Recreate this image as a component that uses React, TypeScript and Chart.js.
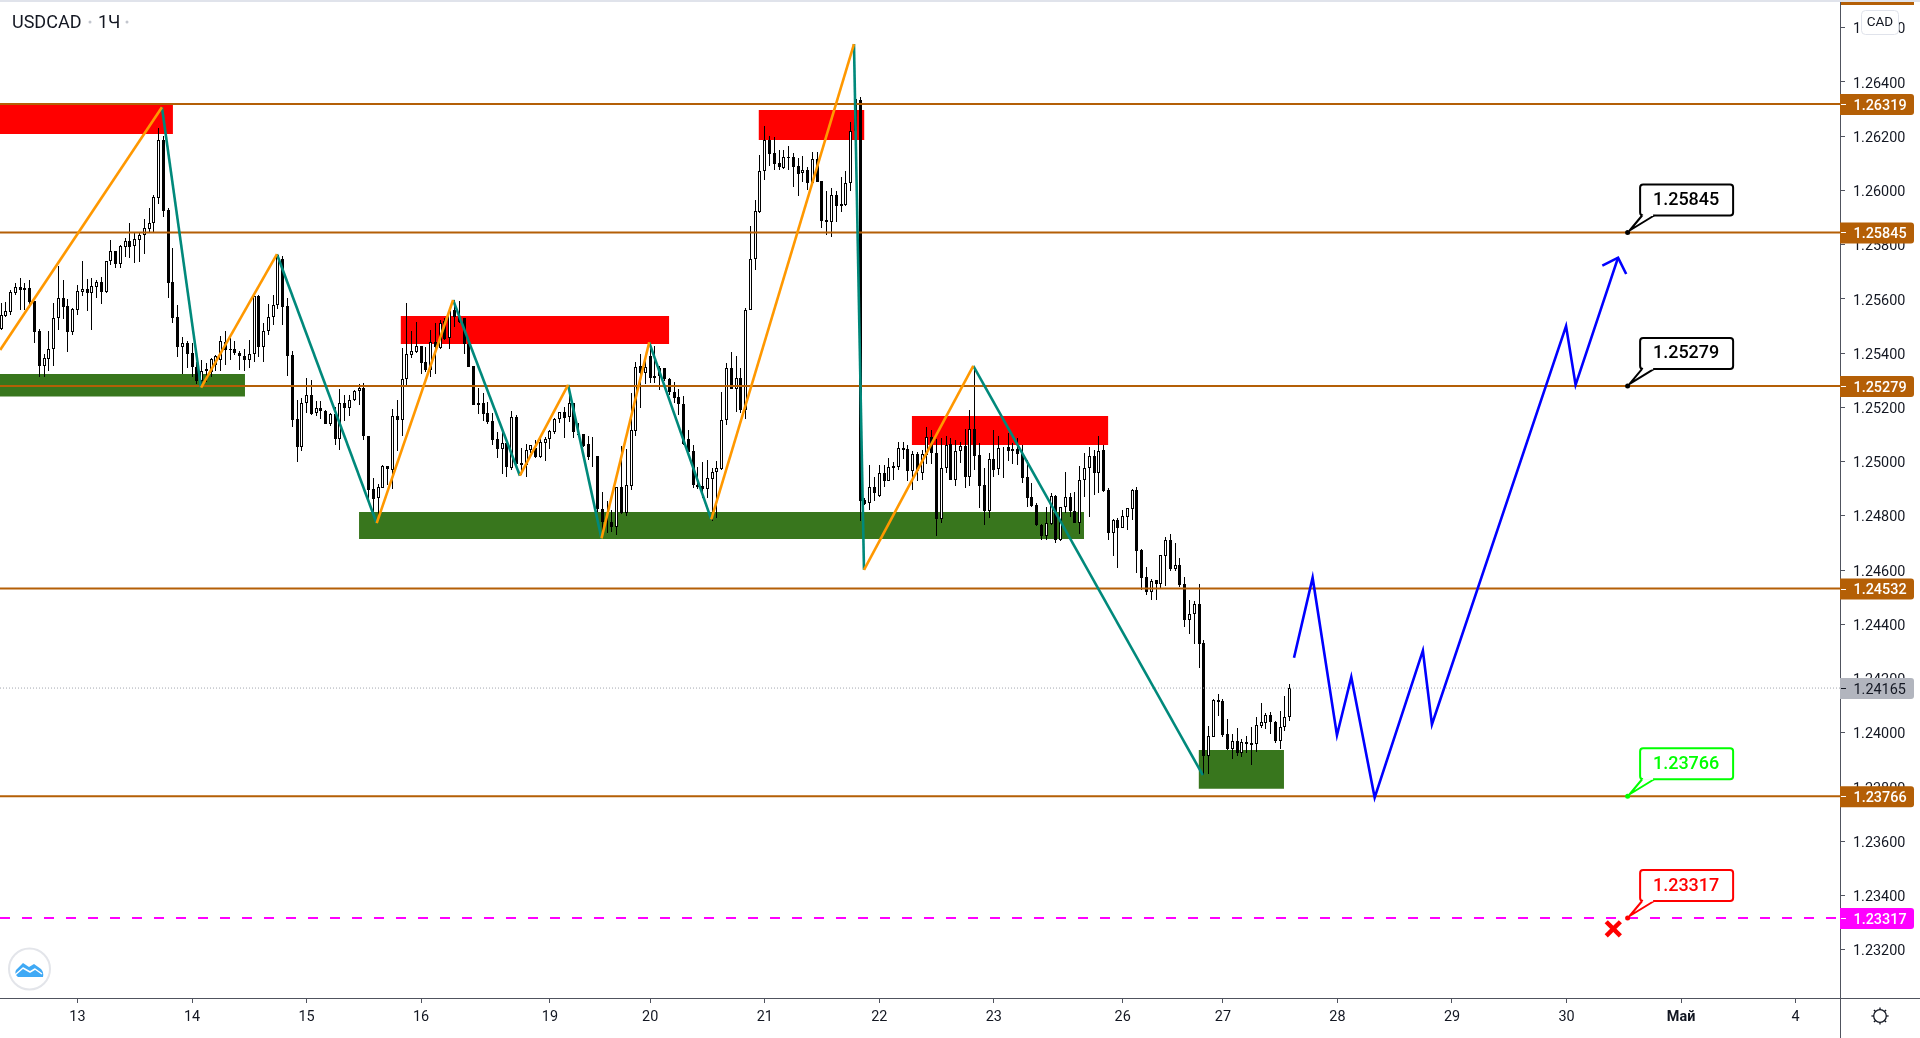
import React, { useEffect, useRef } from "react";
import { Chart, registerables } from "chart.js";

Chart.register(...registerables);

const symbolTitle = "USDCAD";
const intervalTitle = "1Ч";
const currencyBadge = "CAD";

const firstBar = -16;
const opens = [
1.25489,1.25538,1.25553,1.25623,1.25643,1.25640,1.25640,1.25591,1.25482,1.25354,
1.25380,1.25414,1.25528,1.25602,1.25573,1.25479,1.25560,1.25627,1.25637,1.25623,
1.25645,1.25661,1.25626,1.25739,1.25775,1.25730,1.25793,1.25812,1.25794,1.25819,
1.25837,1.25858,1.25879,1.25974,1.26186,1.25928,1.25661,1.25532,1.25424,1.25436,
1.25399,1.25348,1.25299,1.25342,1.25332,1.25357,1.25374,1.25443,1.25416,1.25416,
1.25401,1.25390,1.25374,1.25396,1.25611,1.25422,1.25481,1.25533,1.25576,1.25747,
1.25574,1.25392,1.25156,1.25053,1.25215,1.25245,1.25179,1.25197,1.25186,1.25139,
1.25175,1.25085,1.25218,1.25197,1.25227,1.25259,1.25271,1.25094,1.24898,1.24865,
1.24903,1.24983,1.24970,1.25169,1.25152,1.25304,1.25395,1.25406,1.25426,1.25367,
1.25338,1.25442,1.25418,1.25520,1.25455,1.25559,1.25535,1.25528,1.25433,1.25352,
1.25215,1.25215,1.25178,1.25150,1.25083,1.25048,1.25070,1.24978,1.25163,1.24994,
1.24988,1.25042,1.25049,1.25018,1.25070,1.25082,1.25111,1.25156,1.25183,1.25163,
1.25215,1.25102,1.25102,1.25065,1.25022,1.25021,1.24825,1.24779,1.24776,1.24760,
1.24905,1.24809,1.24911,1.25114,1.25353,1.25328,1.25388,1.25308,1.25345,1.25345,
1.25306,1.25256,1.25238,1.25212,1.25083,1.25038,1.24915,1.24910,1.24900,1.24937,
1.24960,1.24973,1.25152,1.25347,1.25269,1.25310,1.25190,1.25561,1.25746,1.25922,
1.26073,1.26185,1.26137,1.26101,1.26083,1.26123,1.26123,1.26089,1.26064,1.26075,
1.26029,1.26115,1.26034,1.25890,1.25883,1.25982,1.25941,1.25947,1.26027,1.26221,
1.26334,1.24859,1.24847,1.24906,1.24874,1.24957,1.24930,1.24984,1.24981,1.25052,
1.25045,1.24966,1.25027,1.24959,1.25024,1.25089,1.25030,1.24788,1.24975,1.25065,
1.24932,1.25041,1.25057,1.24944,1.25119,1.25024,1.24913,1.24818,1.25009,1.24971,
1.25051,1.25054,1.25046,1.25046,1.25028,1.24942,1.24868,1.24840,1.24768,1.24727,
1.24770,1.24875,1.24711,1.24831,1.24868,1.24819,1.24775,1.24934,1.24975,1.25020,
1.24959,1.25043,1.24895,1.24738,1.24785,1.24756,1.24797,1.24826,1.24895,1.24674,
1.24573,1.24520,1.24562,1.24550,1.24653,1.24711,1.24604,1.24617,1.24547,1.24417,
1.24437,1.24474,1.24330,1.23915,1.23986,1.24120,1.24116,1.23994,1.23941,1.23968,
1.23926,1.23965,1.23961,1.23957,1.24026,1.24037,1.24064,1.24041,1.23971,1.24020,1.24057,
];
const highs = [
1.25584,1.25587,1.25633,1.25660,1.25676,1.25660,1.25670,1.25592,1.25488,1.25397,
1.25482,1.25585,1.25721,1.25670,1.25598,1.25568,1.25651,1.25740,1.25673,1.25676,
1.25670,1.25682,1.25741,1.25816,1.25778,1.25799,1.25823,1.25879,1.25848,1.25844,
1.25894,1.25934,1.25982,1.26230,1.26200,1.25934,1.25787,1.25578,1.25458,1.25445,
1.25436,1.25369,1.25375,1.25365,1.25381,1.25392,1.25464,1.25482,1.25455,1.25445,
1.25408,1.25416,1.25449,1.25609,1.25613,1.25511,1.25581,1.25614,1.25766,1.25759,
1.25603,1.25407,1.25228,1.25234,1.25309,1.25302,1.25222,1.25225,1.25191,1.25179,
1.25201,1.25267,1.25246,1.25246,1.25265,1.25286,1.25289,1.25095,1.24939,1.24917,
1.24987,1.24984,1.25195,1.25228,1.25418,1.25584,1.25481,1.25514,1.25427,1.25422,
1.25485,1.25510,1.25522,1.25528,1.25559,1.25596,1.25592,1.25528,1.25442,1.25353,
1.25273,1.25252,1.25219,1.25181,1.25111,1.25117,1.25080,1.25186,1.25171,1.25049,
1.25065,1.25061,1.25080,1.25086,1.25092,1.25117,1.25160,1.25184,1.25203,1.25249,
1.25215,1.25141,1.25102,1.25096,1.25092,1.25021,1.24889,1.24855,1.24822,1.24908,
1.25058,1.25045,1.25252,1.25366,1.25396,1.25375,1.25424,1.25427,1.25353,1.25345,
1.25308,1.25295,1.25267,1.25242,1.25117,1.25062,1.24979,1.25000,1.25006,1.24975,
1.25002,1.25258,1.25362,1.25404,1.25389,1.25345,1.25567,1.25869,1.25965,1.26131,
1.26238,1.26199,1.26196,1.26150,1.26150,1.26164,1.26137,1.26119,1.26127,1.26088,
1.26142,1.26140,1.26035,1.25998,1.26008,1.25998,1.26049,1.26070,1.26254,1.26340,
1.26345,1.24865,1.24988,1.24945,1.24988,1.24987,1.25012,1.25000,1.25073,1.25073,
1.25061,1.25040,1.25036,1.25043,1.25126,1.25116,1.25082,1.25086,1.25094,1.25088,
1.25079,1.25073,1.25122,1.25190,1.25352,1.25067,1.24975,1.25030,1.25116,1.25094,
1.25055,1.25104,1.25070,1.25086,1.25061,1.25006,1.24923,1.24846,1.24770,1.24834,
1.24885,1.24877,1.24834,1.24963,1.24883,1.24889,1.24984,1.25033,1.25055,1.25043,
1.25094,1.25061,1.24901,1.24787,1.24791,1.24821,1.24830,1.24898,1.24905,1.24676,
1.24610,1.24569,1.24563,1.24654,1.24721,1.24732,1.24699,1.24643,1.24573,1.24490,
1.24486,1.24547,1.24342,1.24025,1.24123,1.24142,1.24123,1.24051,1.23994,1.24017,
1.23976,1.23988,1.24021,1.24057,1.24110,1.24073,1.24075,1.24042,1.24079,1.24134,1.24179,
];
const lows = [
1.25485,1.25535,1.25541,1.25614,1.25559,1.25559,1.25565,1.25439,1.25313,1.25313,
1.25335,1.25353,1.25485,1.25526,1.25405,1.25467,1.25541,1.25612,1.25555,1.25485,
1.25603,1.25581,1.25621,1.25725,1.25715,1.25714,1.25756,1.25750,1.25734,1.25737,
1.25766,1.25844,1.25842,1.25950,1.25903,1.25602,1.25510,1.25387,1.25322,1.25344,
1.25313,1.25286,1.25270,1.25295,1.25313,1.25336,1.25336,1.25357,1.25373,1.25394,
1.25338,1.25336,1.25345,1.25369,1.25385,1.25369,1.25467,1.25504,1.25563,1.25504,
1.25314,1.25126,1.24997,1.25040,1.25181,1.25172,1.25170,1.25156,1.25139,1.25132,
1.25062,1.25043,1.25148,1.25169,1.25222,1.25209,1.25081,1.24847,1.24816,1.24785,
1.24901,1.24914,1.24900,1.25040,1.25095,1.25279,1.25384,1.25400,1.25324,1.25332,
1.25313,1.25322,1.25414,1.25449,1.25414,1.25498,1.25510,1.25397,1.25348,1.25209,
1.25176,1.25151,1.25139,1.25061,1.25015,1.24954,1.24945,1.24969,1.24988,1.24951,
1.24945,1.25031,1.25012,1.25012,1.25002,1.25045,1.25101,1.25141,1.25088,1.25147,
1.25086,1.25092,1.25055,1.25006,1.24981,1.24815,1.24729,1.24736,1.24742,1.24729,
1.24807,1.24799,1.24895,1.25095,1.25197,1.25286,1.25289,1.25289,1.25265,1.25299,
1.25246,1.25218,1.25172,1.25062,1.25033,1.24902,1.24898,1.24865,1.24865,1.24782,
1.24791,1.24969,1.25135,1.25266,1.25184,1.25180,1.25159,1.25559,1.25706,1.25916,
1.26039,1.26091,1.26076,1.26076,1.26080,1.26076,1.26014,1.25978,1.26030,1.26002,
1.26027,1.26032,1.25861,1.25834,1.25830,1.25885,1.25922,1.25944,1.25998,1.26150,
1.24782,1.24840,1.24820,1.24856,1.24871,1.24905,1.24930,1.24932,1.24969,1.25008,
1.24928,1.24895,1.24930,1.24932,1.24993,1.24991,1.24725,1.24775,1.24959,1.24932,
1.24910,1.24996,1.24904,1.24910,1.24969,1.24830,1.24766,1.24793,1.24944,1.24950,
1.24938,1.25002,1.24993,1.24987,1.24920,1.24834,1.24834,1.24762,1.24711,1.24711,
1.24766,1.24701,1.24708,1.24809,1.24794,1.24772,1.24732,1.24870,1.24797,1.24877,
1.24883,1.24889,1.24711,1.24652,1.24609,1.24754,1.24748,1.24785,1.24590,1.24526,
1.24508,1.24490,1.24490,1.24530,1.24541,1.24597,1.24598,1.24536,1.24389,1.24364,
1.24327,1.24240,1.23844,1.23848,1.23986,1.24062,1.23986,1.23936,1.23904,1.23914,
1.23912,1.23926,1.23881,1.23930,1.24019,1.24014,1.23995,1.23962,1.23940,1.24006,1.24045,
];
const closes = [
1.25540,1.25554,1.25624,1.25643,1.25633,1.25634,1.25589,1.25479,1.25354,1.25381,
1.25414,1.25528,1.25602,1.25571,1.25479,1.25563,1.25628,1.25635,1.25623,1.25646,
1.25661,1.25627,1.25739,1.25775,1.25730,1.25794,1.25812,1.25793,1.25820,1.25837,
1.25860,1.25879,1.25975,1.26185,1.25925,1.25660,1.25531,1.25424,1.25436,1.25397,
1.25348,1.25299,1.25335,1.25335,1.25380,1.25388,1.25444,1.25410,1.25410,1.25399,
1.25388,1.25373,1.25396,1.25609,1.25421,1.25481,1.25533,1.25577,1.25763,1.25572,
1.25391,1.25155,1.25053,1.25215,1.25245,1.25176,1.25197,1.25185,1.25140,1.25175,
1.25085,1.25218,1.25196,1.25227,1.25260,1.25271,1.25093,1.24896,1.24863,1.24906,
1.24984,1.24971,1.25169,1.25152,1.25304,1.25396,1.25407,1.25426,1.25365,1.25338,
1.25442,1.25422,1.25510,1.25452,1.25557,1.25535,1.25514,1.25433,1.25350,1.25210,
1.25210,1.25177,1.25146,1.25081,1.25048,1.25067,1.24979,1.25163,1.24990,1.24988,
1.25042,1.25060,1.25018,1.25071,1.25083,1.25113,1.25157,1.25182,1.25162,1.25215,
1.25111,1.25099,1.25058,1.25018,1.25020,1.24824,1.24776,1.24776,1.24760,1.24905,
1.24809,1.24913,1.25117,1.25350,1.25328,1.25350,1.25308,1.25316,1.25316,1.25306,
1.25255,1.25236,1.25212,1.25065,1.25037,1.24914,1.24908,1.24900,1.24938,1.24960,
1.24975,1.25152,1.25347,1.25269,1.25310,1.25190,1.25561,1.25746,1.25923,1.26073,
1.26185,1.26136,1.26099,1.26085,1.26123,1.26120,1.26088,1.26061,1.26075,1.26029,
1.26115,1.26032,1.25889,1.25882,1.25982,1.25941,1.25949,1.26027,1.26221,1.26336,
1.24856,1.24844,1.24906,1.24883,1.24957,1.24930,1.24979,1.24977,1.25052,1.25043,
1.24966,1.25027,1.24966,1.25027,1.25089,1.25030,1.24788,1.24975,1.25063,1.24932,
1.25041,1.25056,1.24944,1.25119,1.25022,1.24911,1.24818,1.25008,1.24969,1.25052,
1.25052,1.25040,1.25040,1.25028,1.24941,1.24867,1.24836,1.24766,1.24727,1.24772,
1.24874,1.24711,1.24831,1.24868,1.24819,1.24775,1.24934,1.24975,1.25020,1.24959,
1.25041,1.24893,1.24738,1.24785,1.24756,1.24798,1.24828,1.24895,1.24671,1.24572,
1.24520,1.24561,1.24549,1.24654,1.24710,1.24604,1.24617,1.24545,1.24417,1.24437,
1.24474,1.24328,1.23915,1.23987,1.24121,1.24115,1.23992,1.23940,1.23968,1.23926,
1.23965,1.23960,1.23956,1.24027,1.24038,1.24064,1.24041,1.23971,1.24020,1.24057,1.24165,
];

const xMin = -16.23;
const xMax = 369.3;
const yMin = 1.23022;
const yMax = 1.26695;

const timeTickIndex = [0, 24, 48, 72, 99, 120, 144, 168, 192, 219, 240, 264, 288, 312, 336, 360];
const timeTickLabels = ["13", "14", "15", "16", "19", "20", "21", "22", "23", "26", "27", "28", "29", "30", "Май", "4"];
const priceTicks = [1.232, 1.234, 1.236, 1.238, 1.24, 1.242, 1.244, 1.246, 1.248, 1.25, 1.252, 1.254, 1.256, 1.258, 1.26, 1.262, 1.264, 1.266];

const keyLevels = [1.26319, 1.25845, 1.25279, 1.24532, 1.23766];
const lastPrice = 1.24165;
const stopLevel = 1.23317;

// [bar from, bar to, price low, price high]
const redZones = [
  [-17, 20, 1.26208, 1.26315],
  [67.7, 124, 1.25434, 1.25537],
  [142.7, 164.9, 1.26186, 1.26297],
  [174.8, 216, 1.25061, 1.25168],
];
const greenZones = [
  [-17, 35.1, 1.2524, 1.25323],
  [59, 210.9, 1.24715, 1.24814],
  [234.9, 252.8, 1.23794, 1.23937],
];

const zigzagIndex = [-16.2, 17.7, 25.9, 41.8, 62.7, 78.7, 92.7, 102.8, 109.8, 119.8, 132.8, 162.7, 164.8, 187.7, 235.8];
const zigzagPrice = [1.25412, 1.26307, 1.25273, 1.25765, 1.24773, 1.25596, 1.24948, 1.25283, 1.24717, 1.2544, 1.24787, 1.2654, 1.24601, 1.25353, 1.23844];

const forecastIndex = [254.9, 258.8, 263.9, 266.9, 271.8, 281.9, 283.8, 311.9, 313.9, 322.8];
const forecastPrice = [1.24277, 1.24572, 1.23991, 1.24206, 1.23761, 1.24303, 1.24031, 1.255, 1.25283, 1.25752];
const arrowHeadIndex = [319.5, 322.8, 324.5];
const arrowHeadPrice = [1.25723, 1.25752, 1.25692];

const calloutBar = 324.8;
const calloutPrices = [1.25845, 1.25279, 1.23766, 1.23317];
const calloutColors = ["#000000", "#000000", "#00ff00", "#ff0000"];

const stopMarkIndex = 321.8;
const stopMarkPrice = 1.23277;

const BROWN = "#b45f06";
const TEXT = "#131722";
const AXIS = "#50535e";
const FONT = "Roboto, 'Liberation Sans', sans-serif";

const seg = (xs: number[], ys: number[]) => xs.map((x, i) => ({ x, y: ys[i] }));

function priceLabel(ctx: CanvasRenderingContext2D, y: number, text: string, bg: string, fg: string, weight: string) {
  ctx.fillStyle = bg;
  ctx.beginPath();
  ctx.roundRect(1840, y - 10, 74, 21, [0, 3, 3, 0]);
  ctx.fill();
  ctx.fillStyle = fg;
  ctx.fillRect(1841, Math.round(y), 5, 1);
  ctx.font = `${weight} 14.4px ${FONT}`;
  ctx.textAlign = "left";
  ctx.textBaseline = "middle";
  ctx.fillText(text, 1853.5, y + 2);
}

const chromePlugin = {
  id: "chrome",
  afterDatasetsUpdate(chart: any) {
    // snap the candle elements to whole device pixels so that they stay crisp
    chart.data.datasets.forEach((ds: any, i: number) => {
      if (ds.label !== "wicks" && ds.label !== "bodies") return;
      chart.getDatasetMeta(i).data.forEach((el: any) => {
        el.x = Math.floor(el.x) + 0.5;
        el.y = Math.round(el.y);
        el.base = Math.round(el.base);
      });
    });
  },
  afterDraw(chart: any) {
    const ctx: CanvasRenderingContext2D = chart.ctx;
    const xs = chart.scales.x;
    const ys = chart.scales.y;
    ctx.save();

    // axis panel edges
    ctx.fillStyle = AXIS;
    ctx.fillRect(1840, 0, 1, 1036);
    ctx.fillRect(0, 996, 1920, 1);
    ctx.fillStyle = BROWN;
    ctx.fillRect(1841, 0, 73, 3);

    // symbol legend
    ctx.fillStyle = TEXT;
    ctx.font = `18px ${FONT}`;
    ctx.textAlign = "left";
    ctx.textBaseline = "middle";
    ctx.fillText(symbolTitle, 12, 21);
    ctx.fillText(intervalTitle, 98, 21);
    ctx.fillStyle = "#c3c6ce";
    ctx.beginPath();
    ctx.arc(90, 20, 1.5, 0, Math.PI * 2);
    ctx.arc(127, 20, 1.5, 0, Math.PI * 2);
    ctx.fill();

    // price labels on the axis
    keyLevels.forEach((p) => priceLabel(ctx, ys.getPixelForValue(p), p.toFixed(5), BROWN, "#ffffff", "500"));
    priceLabel(ctx, ys.getPixelForValue(lastPrice), lastPrice.toFixed(5), "#b2b5be", TEXT, "400");
    priceLabel(ctx, ys.getPixelForValue(stopLevel), stopLevel.toFixed(5), "#ff00ff", "#ffffff", "500");

    // currency badge
    ctx.fillStyle = "#ffffff";
    ctx.strokeStyle = "#e0e3eb";
    ctx.lineWidth = 1;
    ctx.beginPath();
    ctx.roundRect(1861.5, 8.5, 37, 24, 4);
    ctx.fill();
    ctx.stroke();
    ctx.fillStyle = TEXT;
    ctx.font = `13.5px ${FONT}`;
    ctx.textAlign = "center";
    ctx.fillText(currencyBadge, 1880, 21);

    // callouts
    calloutPrices.forEach((p, i) => {
      const ax = xs.getPixelForValue(calloutBar);
      const ay = ys.getPixelForValue(p);
      const color = calloutColors[i];
      ctx.strokeStyle = color;
      ctx.lineWidth = 2;
      ctx.lineJoin = "round";
      ctx.fillStyle = "#ffffff";
      ctx.beginPath();
      ctx.roundRect(ax + 12.5, ay - 48, 93, 31, 3);
      ctx.fill();
      ctx.stroke();
      ctx.beginPath();
      ctx.moveTo(ax + 14.5, ay - 17);
      ctx.lineTo(ax + 2, ay - 2);
      ctx.lineTo(ax + 26.5, ay - 17);
      ctx.fill();
      ctx.stroke();
      ctx.fillStyle = "#ffffff";
      ctx.fillRect(ax + 15.5, ay - 19, 10, 2.5);
      ctx.fillStyle = color;
      ctx.beginPath();
      ctx.arc(ax, ay, 2.5, 0, Math.PI * 2);
      ctx.fill();
      ctx.font = `500 18px ${FONT}`;
      ctx.textAlign = "center";
      ctx.textBaseline = "middle";
      ctx.fillText(p.toFixed(5), ax + 58.5, ay - 32);
    });

    // platform logo
    ctx.fillStyle = "#ffffff";
    ctx.strokeStyle = "#e3e5ea";
    ctx.lineWidth = 2;
    ctx.beginPath();
    ctx.arc(29.5, 967, 20.5, 0, Math.PI * 2);
    ctx.fill();
    ctx.stroke();
    ctx.fillStyle = "#3fa9f5";
    ctx.beginPath();
    ctx.moveTo(16, 968);
    ctx.lineTo(23, 961);
    ctx.lineTo(29, 965);
    ctx.lineTo(34, 962);
    ctx.lineTo(41, 967);
    ctx.quadraticCurveTo(44, 970, 43, 975);
    ctx.lineTo(18, 975);
    ctx.quadraticCurveTo(14, 972, 16, 968);
    ctx.fill();
    ctx.strokeStyle = "#ffffff";
    ctx.lineWidth = 1.5;
    ctx.beginPath();
    ctx.moveTo(15, 973);
    ctx.lineTo(23, 966);
    ctx.lineTo(30, 970);
    ctx.lineTo(35, 967);
    ctx.lineTo(42, 972);
    ctx.stroke();

    // settings gear
    ctx.strokeStyle = TEXT;
    ctx.lineWidth = 1.3;
    ctx.beginPath();
    ctx.arc(1880, 1014, 6.3, 0, Math.PI * 2);
    ctx.stroke();
    for (let k = 0; k < 8; k++) {
      const a = (k * Math.PI) / 4;
      ctx.beginPath();
      ctx.moveTo(1880 + Math.cos(a) * 6.3, 1014 + Math.sin(a) * 6.3);
      ctx.lineTo(1880 + Math.cos(a) * 8.6, 1014 + Math.sin(a) * 8.6);
      ctx.stroke();
    }
    ctx.restore();
  },
};

const noPadding = (s: any) => {
  s.paddingLeft = 0;
  s.paddingRight = 0;
  s.paddingTop = 0;
  s.paddingBottom = 0;
};

export default function App() {
  const ref = useRef<HTMLCanvasElement>(null);

  useEffect(() => {
    document.body.style.margin = "0";
    document.body.style.background = "#ffffff";
    const bars = opens.map((_, i) => firstBar + i);

    const zoneDataset = (z: number[], color: string) => ({
      type: "line",
      label: "zone",
      data: [{ x: z[0], y: z[3] }, { x: z[1], y: z[3] }],
      fill: { value: z[2] },
      backgroundColor: color,
      borderWidth: 0,
      pointRadius: 0,
      order: 20,
    });

    const zigzagDatasets = zigzagIndex.slice(0, -1).map((x, i) => ({
      type: "line",
      label: i % 2 === 0 ? "up leg" : "down leg",
      data: [{ x, y: zigzagPrice[i] }, { x: zigzagIndex[i + 1], y: zigzagPrice[i + 1] }],
      borderColor: i % 2 === 0 ? "#ff9800" : "#00897b",
      borderWidth: 2.6,
      pointRadius: 0,
      tension: 0,
      order: i % 2 === 0 ? 4 : 5,
    }));

    const levelDatasets = keyLevels.map((p) => ({
      type: "line",
      label: "level",
      data: [{ x: xMin, y: p }, { x: xMax, y: p }],
      borderColor: BROWN,
      borderWidth: 2,
      pointRadius: 0,
      order: 6,
    }));

    const chart = new Chart(ref.current as HTMLCanvasElement, {
      type: "line",
      data: {
        datasets: [
          ...redZones.map((z) => zoneDataset(z, "#ff0000")),
          ...greenZones.map((z) => zoneDataset(z, "#38761d")),
          {
            type: "bar",
            label: "wicks",
            data: bars.map((x, i) => ({ x, y: [lows[i], highs[i]] })),
            backgroundColor: "#000000",
            borderWidth: 0,
            inflateAmount: 0,
            barThickness: 1,
            grouped: false,
            order: 11,
          },
          {
            type: "bar",
            label: "bodies",
            data: bars.map((x, i) => ({ x, y: [opens[i], closes[i]] })),
            backgroundColor: bars.map((_, i) => (closes[i] >= opens[i] ? "#ffffff" : "#000000")),
            borderColor: "#000000",
            borderWidth: 1,
            borderSkipped: false,
            inflateAmount: 0,
            barThickness: 3,
            grouped: false,
            order: 10,
          },
          ...levelDatasets,
          {
            type: "line",
            label: "last price",
            data: [{ x: xMin, y: lastPrice }, { x: xMax, y: lastPrice }],
            borderColor: "#a3a6af",
            borderWidth: 1,
            borderDash: [1, 2],
            pointRadius: 0,
            order: 7,
          },
          {
            type: "line",
            label: "stop level",
            data: [{ x: xMin, y: stopLevel }, { x: xMax, y: stopLevel }],
            borderColor: "#ff00ff",
            borderWidth: 2,
            borderDash: [10, 12],
            pointRadius: 0,
            order: 6,
          },
          ...zigzagDatasets,
          {
            type: "line",
            label: "forecast",
            data: seg(forecastIndex, forecastPrice),
            borderColor: "#0000ff",
            borderWidth: 2.6,
            borderJoinStyle: "miter",
            pointRadius: 0,
            tension: 0,
            order: 3,
          },
          {
            type: "line",
            label: "forecast arrow",
            data: seg(arrowHeadIndex, arrowHeadPrice),
            borderColor: "#0000ff",
            borderWidth: 2.6,
            borderJoinStyle: "miter",
            pointRadius: 0,
            tension: 0,
            order: 3,
          },
          {
            type: "scatter",
            label: "stop mark",
            data: [{ x: stopMarkIndex, y: stopMarkPrice }],
            pointStyle: "crossRot",
            pointRadius: 10,
            pointBorderColor: "#ff0000",
            pointBorderWidth: 4.5,
            showLine: false,
            order: 2,
          },
        ] as any,
      },
      options: {
        responsive: false,
        animation: false,
        events: [],
        layout: { padding: 0, autoPadding: false },
        plugins: { legend: { display: false }, tooltip: { enabled: false }, title: { display: false } },
        scales: {
          x: {
            type: "linear",
            min: xMin,
            max: xMax,
            offset: false,
            border: { display: false },
            grid: { offset: false, drawOnChartArea: false, drawTicks: true, tickLength: 5, tickColor: AXIS },
            afterBuildTicks: (s: any) => {
              s.ticks = timeTickIndex.map((value) => ({ value }));
            },
            afterFit: (s: any) => {
              s.height = 40;
              noPadding(s);
            },
            ticks: {
              autoSkip: false,
              maxRotation: 0,
              includeBounds: false,
              padding: 6,
              color: TEXT,
              font: (c: any) => ({
                family: FONT,
                size: 14.4,
                weight: c.tick && c.tick.label === "Май" ? "bold" : "normal",
              }),
              callback: (_v: any, i: number) => timeTickLabels[i],
            },
          },
          y: {
            type: "linear",
            position: "right",
            min: yMin,
            max: yMax,
            border: { display: false },
            grid: { drawOnChartArea: false, drawTicks: true, tickLength: 5, tickColor: AXIS },
            afterBuildTicks: (s: any) => {
              s.ticks = priceTicks.map((value) => ({ value }));
            },
            afterFit: (s: any) => {
              s.width = 80;
              noPadding(s);
            },
            ticks: {
              autoSkip: false,
              includeBounds: false,
              padding: 8,
              labelOffset: 2,
              color: TEXT,
              font: { family: FONT, size: 14.4 },
              callback: (v: any) => Number(v).toFixed(5),
            },
          },
        },
      } as any,
      plugins: [chromePlugin],
    });
    return () => chart.destroy();
  }, []);

  return (
    <div style={{ borderTop: "2px solid #e0e3eb", width: 1920, height: 1036, background: "#fff" }}>
      <canvas ref={ref} width={1920} height={1036} style={{ display: "block" }} />
    </div>
  );
}
